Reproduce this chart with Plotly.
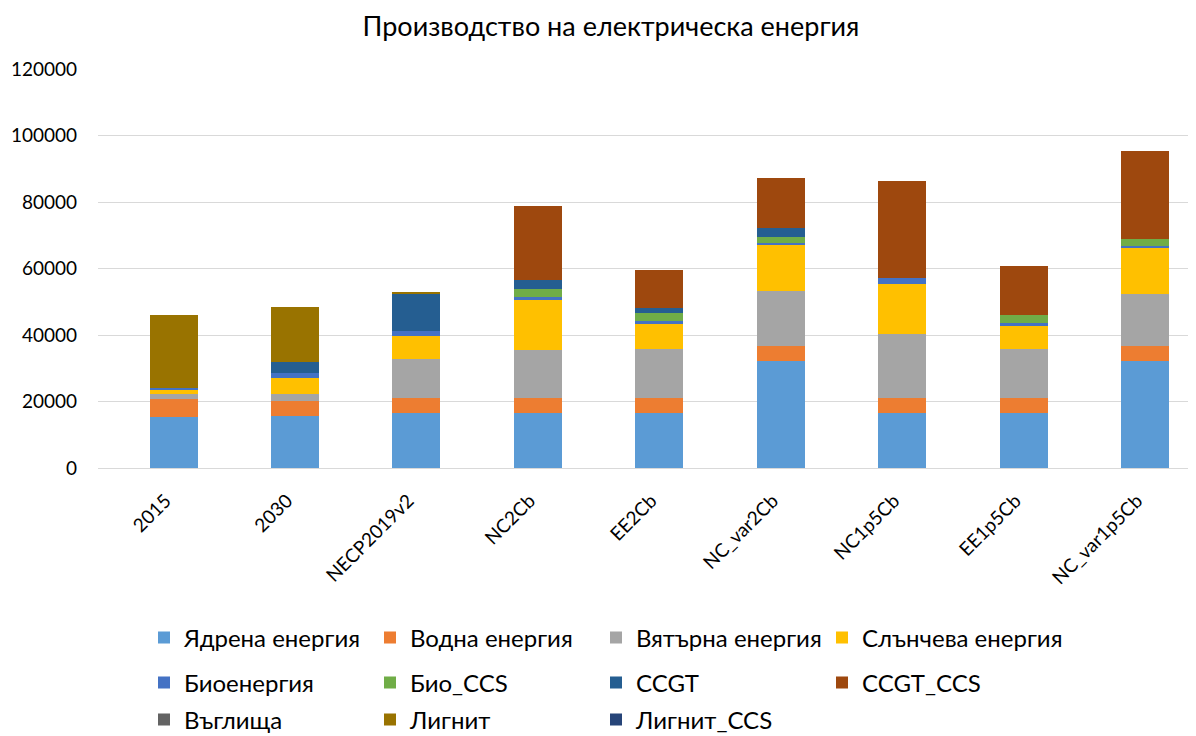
import plotly.graph_objects as go

categories = ["2015", "2030", "NECP2019v2", "NC2Cb", "EE2Cb", "NC_var2Cb", "NC1p5Cb", "EE1p5Cb", "NC_var1p5Cb"]

nuclear = [15300, 15600, 16400, 16400, 16400, 32200, 16400, 16400, 32200]
hydro = [5400, 4600, 4800, 4800, 4800, 4600, 4800, 4800, 4500]
wind = [1600, 2100, 11600, 14400, 14500, 16300, 19200, 14500, 15700]
solar = [1400, 4800, 6800, 15200, 7900, 13900, 14800, 7300, 13900]
bio = [500, 1500, 1600, 500, 500, 600, 1900, 600, 500]
bio_ccs = [0, 0, 0, 2400, 2400, 1900, 0, 2400, 2200]
ccgt = [0, 3300, 11200, 2900, 1600, 2700, 0, 0, 0]
ccgt_ccs = [0, 0, 0, 22300, 11400, 15000, 29100, 14800, 26300]
coal = [0, 0, 0, 0, 0, 0, 0, 0, 0]
lignite = [21700, 16400, 300, 0, 0, 0, 0, 0, 0]
lignite_ccs = [0, 0, 0, 0, 0, 0, 0, 0, 0]

series = [
    ("Ядрена енергия", nuclear, "#5B9BD5", "legend"),
    ("Водна енергия", hydro, "#ED7D31", "legend"),
    ("Вятърна енергия", wind, "#A5A5A5", "legend"),
    ("Слънчева енергия", solar, "#FFC000", "legend4"),
    ("Биоенергия", bio, "#4472C4", "legend2"),
    ("Био_CCS", bio_ccs, "#70AD47", "legend2"),
    ("CCGT", ccgt, "#255E91", "legend2"),
    ("CCGT_CCS", ccgt_ccs, "#9E480E", "legend5"),
    ("Въглища", coal, "#636363", "legend3"),
    ("Лигнит", lignite, "#997300", "legend3"),
    ("Лигнит_CCS", lignite_ccs, "#264478", "legend3"),
]

FONT = "Lato"
# page has an 8px body margin; figure sized so it fits the 1196x736 window
W, H = 1188, 728
OFF = 8
COLW = 226  # legend column pitch in pixels

fig = go.Figure()
for name, vals, color, lg in series:
    fig.add_trace(go.Bar(
        x=categories, y=vals, name=name, legend=lg,
        marker=dict(color=color, line=dict(width=0)),
    ))

leg_common = dict(
    orientation="h", xanchor="left", yanchor="middle",
    xref="container", yref="container",
    entrywidthmode="pixels",
    font=dict(family=FONT, size=24, color="#000000"),
    bgcolor="rgba(0,0,0,0)", itemwidth=30, traceorder="normal",
)

LX = 136
rows = [638, 683, 720]

fig.update_layout(
    width=W, height=H,
    barmode="stack", bargap=0.605,
    paper_bgcolor="white", plot_bgcolor="white",
    margin=dict(l=98 - OFF, r=0, t=69 - OFF, b=H - (468 - OFF), autoexpand=False),
    title=dict(text="Производство на електрическа енергия",
               x=(611 - OFF) / W, xanchor="center", xref="container",
               y=1 - (27 - OFF) / H, yref="container", yanchor="middle",
               font=dict(family=FONT, size=27, color="#000000")),
    font=dict(family=FONT, size=19, color="#000000"),
    xaxis=dict(range=[-0.622, 8.42], tickangle=-45, showgrid=False, showline=False,
               ticks="", ticklabelstandoff=17, ticklabelshift=-8,
               tickfont=dict(family=FONT, size=19)),
    yaxis=dict(range=[0, 120000], dtick=20000, showgrid=True, gridcolor="#D9D9D9",
               gridwidth=1, zeroline=True, zerolinecolor="#D9D9D9", zerolinewidth=1,
               showline=False, ticks="", tickformat="d", ticklabelstandoff=20,
               tickfont=dict(family=FONT, size=19)),
    legend=dict(x=LX / W, y=1 - (rows[0] - OFF) / H, entrywidth=COLW - 45, **leg_common),
    legend2=dict(x=LX / W, y=1 - (rows[1] - OFF) / H, entrywidth=COLW - 45, **leg_common),
    legend3=dict(x=LX / W, y=1 - (rows[2] - OFF) / H, entrywidth=COLW - 45, **leg_common),
    legend4=dict(x=(LX + 3 * COLW) / W, y=1 - (rows[0] - OFF) / H, entrywidth=260, **leg_common),
    legend5=dict(x=(LX + 3 * COLW) / W, y=1 - (rows[1] - OFF) / H, entrywidth=260, **leg_common),
)

fig.write_html("out.html")
